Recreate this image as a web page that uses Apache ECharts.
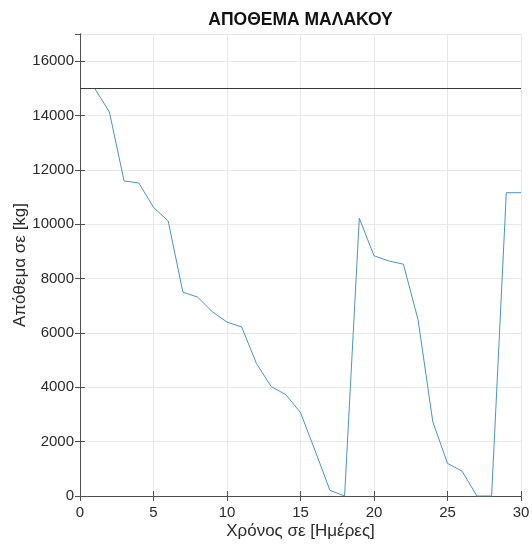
<!DOCTYPE html>
<html>
<head>
<meta charset="utf-8">
<title>ΑΠΟΘΕΜΑ ΜΑΛΑΚΟΥ</title>
<script src="https://cdn.jsdelivr.net/npm/echarts@6/dist/echarts.min.js"></script>
<style>
    html, body { margin: 0; padding: 0; background: #fff; }
    #chart { width: 532px; height: 544px; }
</style>
</head>
<body>
<div id="chart"></div>
<script>
// days of the period and stock at the end of each day (kg)
var days = [1, 2, 3, 4, 5, 6, 7, 8, 9, 10, 11, 12, 13, 14, 15, 16, 17, 18, 19, 20, 21, 22, 23, 24, 25, 26, 27, 28, 29, 30];
var stock = [15000, 14130, 11590, 11520, 10620, 10120, 7500, 7320, 6780, 6400,
    6220, 4880, 4030, 3730, 3070, 1660, 210, 0, 10220, 8840,
    8650, 8530, 6480, 2730, 1200, 910, 0, 0, 11160, 11160];
var capacity = 15000;
var xTicks = [0, 5, 10, 15, 20, 25, 30];
var yTicks = [0, 2000, 4000, 6000, 8000, 10000, 12000, 14000, 16000];

var font = 'Liberation Sans, Arial, sans-serif';
var axisColor = '#505050';
var textColor = '#2b2b2b';

var chart = echarts.init(document.getElementById('chart'));

var boxAxis = {
    axisLine: {show: true, lineStyle: {color: axisColor, width: 1}},
    axisTick: {show: true, inside: true, length: 5, lineStyle: {color: axisColor}},
    axisLabel: {show: false},
    splitLine: {show: false}
};

option = {
    animation: false,
    backgroundColor: '#fff',
    title: {
        text: 'ΑΠΟΘΕΜΑ ΜΑΛΑΚΟΥ',
        left: 300.5,
        top: 11,
        padding: 0,
        textAlign: 'center',
        textStyle: {fontFamily: font, fontSize: 17.5, fontWeight: 'bold', color: '#111'}
    },
    grid: {left: 80, right: 11, top: 34, bottom: 48, outerBoundsMode: 'none', containLabel: false},
    xAxis: [
        Object.assign({
            type: 'value',
            min: xTicks[0],
            max: xTicks[xTicks.length - 1],
            interval: xTicks[1] - xTicks[0],
            name: 'Χρόνος σε [Ημέρες]',
            nameLocation: 'middle',
            nameGap: 27,
            nameMoveOverlap: false,
            nameTextStyle: {fontFamily: font, fontSize: 17, color: textColor}
        }, boxAxis, {
            axisLabel: {show: true, margin: 9, fontFamily: font, fontSize: 15, color: textColor},
            splitLine: {show: true, lineStyle: {color: '#e8e8e8', width: 1}}
        }),
        Object.assign({
            type: 'value',
            position: 'top',
            min: xTicks[0],
            max: xTicks[xTicks.length - 1],
            interval: xTicks[1] - xTicks[0]
        }, boxAxis)
    ],
    yAxis: [
        Object.assign({
            type: 'value',
            min: yTicks[0],
            max: 17000,
            interval: yTicks[1] - yTicks[0],
            name: 'Απόθεμα σε [kg]',
            nameLocation: 'middle',
            nameGap: 51,
            nameMoveOverlap: false,
            nameTextStyle: {fontFamily: font, fontSize: 17, color: textColor}
        }, boxAxis, {
            axisLabel: {
                show: true, margin: 6, showMaxLabel: false,
                fontFamily: font, fontSize: 15, color: textColor,
                formatter: function (v) { return String(v); }
            },
            splitLine: {show: true, lineStyle: {color: '#e8e8e8', width: 1}}
        }),
        Object.assign({
            type: 'value',
            position: 'right',
            min: yTicks[0],
            max: 17000,
            interval: yTicks[1] - yTicks[0]
        }, boxAxis)
    ],
    series: [
        {
            type: 'line',
            data: days.map(function (d, i) { return [d, stock[i]]; }),
            symbol: 'none',
            lineStyle: {color: '#4a93c2', width: 1},
            markLine: {
                silent: true,
                symbol: 'none',
                label: {show: false},
                lineStyle: {color: '#3a3a3a', width: 1, type: 'solid'},
                data: [{yAxis: capacity}]
            }
        }
    ]
};

chart.setOption(option);
</script>
</body>
</html>
